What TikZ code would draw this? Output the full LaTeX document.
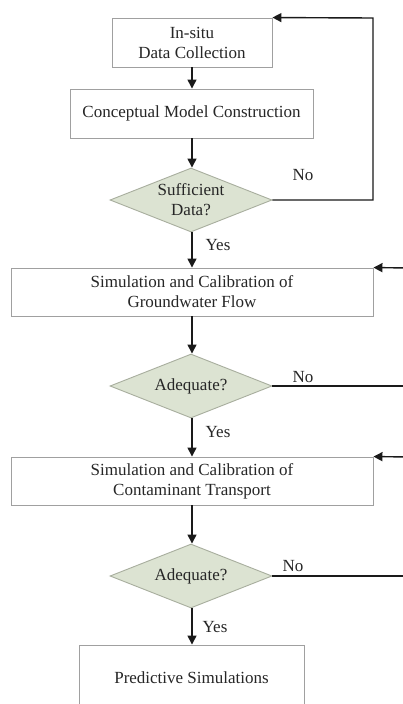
\documentclass[tikz,border=0pt]{standalone}
\usepackage{fontspec}
\setmainfont{Liberation Serif}
\usetikzlibrary{shapes.geometric,arrows.meta}
\definecolor{boxline}{HTML}{A0A0A0}
\definecolor{decfill}{HTML}{DCE3D2}
\definecolor{decline}{HTML}{A8AE9E}
\definecolor{linecol}{HTML}{1A1A1A}
\begin{document}
\begin{tikzpicture}[x=1pt,y=-1pt,
  every node/.style={font=\fontsize{17}{20}\selectfont, text=black!85},
  procbox/.style={draw=boxline, line width=0.9pt, fill=white, align=center, inner sep=0pt},
  decision/.style={diamond, draw=decline, line width=0.9pt, fill=decfill, align=center, inner sep=0pt, aspect=2.53, minimum width=162pt, minimum height=64pt},
  flow/.style={draw=linecol, line width=1.4pt, -{Triangle[length=9pt,width=9pt]}},
  plainline/.style={draw=linecol, line width=1.4pt},
  lbl/.style={inner sep=0pt}
]
\useasboundingbox (0,0) rectangle (403,704);
\clip (0,0) rectangle (403,704);
\fill[white] (0,0) rectangle (403,704);

\node[procbox, minimum width=160pt, minimum height=49pt] (b1) at (192,42.5) {In-situ\\Data Collection};
\node[procbox, minimum width=243pt, minimum height=49pt] (b2) at (191.5,113.5) {Conceptual Model Construction};
\node[decision] (d1) at (191,200) {Sufficient\\Data?};
\node[procbox, minimum width=362pt, minimum height=48pt] (b3) at (192,292) {Simulation and Calibration of\\Groundwater Flow};
\node[decision] (d2) at (191,386) {Adequate?};
\node[procbox, minimum width=362pt, minimum height=48pt] (b4) at (192,481) {Simulation and Calibration of\\Contaminant Transport};
\node[decision] (d3) at (191,576) {Adequate?};
\node[procbox, minimum width=225pt, minimum height=66pt] (b5) at (191.5,678) {Predictive Simulations};

\coordinate (c1) at (373,200);
\coordinate (c1t) at (373,18);
\coordinate (r2) at (410,386);
\coordinate (r3) at (410,576);
\coordinate (e3) at (410,268);
\coordinate (e4) at (410,457);

\draw[flow] (b1.south) -- (b1.south |- b2.north);
\draw[flow] (b1.south |- b2.south) -- (b1.south |- d1.north);
\draw[flow] (b1.south |- d1.south) -- (b1.south |- b3.north);
\draw[flow] (b1.south |- b3.south) -- (b1.south |- d2.north);
\draw[flow] (b1.south |- d2.south) -- (b1.south |- b4.north);
\draw[flow] (b1.south |- b4.south) -- (b1.south |- d3.north);
\draw[flow] (b1.south |- d3.south) -- (b1.south |- b5.north);

\draw[flow] (d1.east) -- (c1) -- (c1t) -- (b1.north east);
\draw[plainline] (d2.east) -- (r2);
\draw[plainline] (d3.east) -- (r3);
\draw[flow] (e3) -- (b3.north east);
\draw[flow] (e4) -- (b4.north east);

\node[lbl] (n1) at (303,175) {No};
\node[lbl] (y1) at (218,245) {Yes};
\node[lbl] (n2) at (303,377) {No};
\node[lbl] (y2) at (218,432) {Yes};
\node[lbl] (n3) at (293,566) {No};
\node[lbl] (y3) at (215,627) {Yes};
\end{tikzpicture}
\end{document}
